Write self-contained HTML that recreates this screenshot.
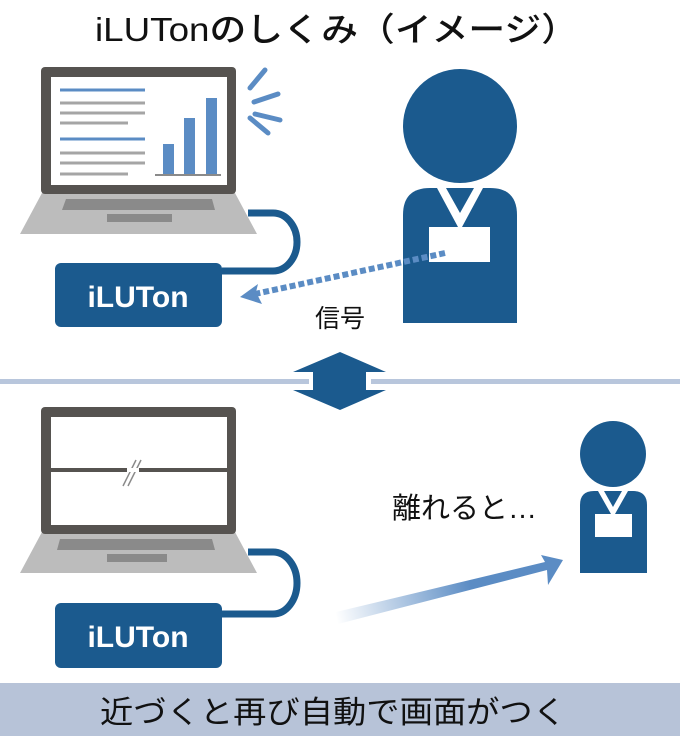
<!DOCTYPE html>
<html><head><meta charset="utf-8"><style>
html,body{margin:0;padding:0;background:#fff;width:680px;height:736px;overflow:hidden}
svg{display:block}
text{font-family:"Liberation Sans","Noto Sans CJK JP",sans-serif}
</style></head><body>
<svg width="680" height="736" viewBox="0 0 680 736" xmlns="http://www.w3.org/2000/svg">
<defs>
<linearGradient id="g" x1="336" y1="618" x2="560" y2="560" gradientUnits="userSpaceOnUse">
<stop offset="0" stop-color="#5b8cc4" stop-opacity="0"/><stop offset="0.6" stop-color="#5b8cc4"/><stop offset="1" stop-color="#5b8cc4"/></linearGradient>
</defs>
<text x="95" y="41" font-size="33" textLength="483" lengthAdjust="spacingAndGlyphs" fill="#111" font-family="Noto Sans CJK JP, sans-serif" font-weight="500">iLUTonのしくみ（イメージ）</text>

<!-- top laptop -->
<polygon points="42,193 235,193 257,234 20,234" fill="#bcbcbc"/>
<rect x="41" y="67" width="195" height="127" rx="4" fill="#565350"/>
<rect x="51" y="77" width="176" height="108" fill="#fff"/>
<polygon points="66,199 212,199 215,210 62,210" fill="#8a8a8a"/>
<rect x="107" y="214" width="65" height="8" fill="#8a8a8a"/>
<g stroke-width="3">
<line x1="60" y1="90" x2="145" y2="90" stroke="#5b8cc4"/>
<line x1="60" y1="103" x2="145" y2="103" stroke="#a5a5a5"/>
<line x1="60" y1="113" x2="145" y2="113" stroke="#a5a5a5"/>
<line x1="60" y1="123" x2="128" y2="123" stroke="#a5a5a5"/>
<line x1="60" y1="139" x2="145" y2="139" stroke="#5b8cc4"/>
<line x1="60" y1="153" x2="145" y2="153" stroke="#a5a5a5"/>
<line x1="60" y1="163" x2="145" y2="163" stroke="#a5a5a5"/>
<line x1="60" y1="174" x2="128" y2="174" stroke="#a5a5a5"/>
<line x1="155" y1="175" x2="221" y2="175" stroke="#8a8a8a" stroke-width="2"/>
</g>
<rect x="163" y="144" width="11" height="30" fill="#5b8cc4"/>
<rect x="184" y="118" width="11" height="56" fill="#5b8cc4"/>
<rect x="206" y="98" width="11" height="76" fill="#5b8cc4"/>
<g stroke="#5b8cc4" stroke-width="5" stroke-linecap="round">
<line x1="250" y1="88" x2="265" y2="70"/>
<line x1="254" y1="102" x2="278" y2="94"/>
<line x1="255" y1="114" x2="280" y2="120"/>
<line x1="250" y1="118" x2="268" y2="133"/>
</g>
<path d="M248,213 H273 A24,29 0 0 1 273,271 H222" fill="none" stroke="#1b5a8e" stroke-width="7"/>
<rect x="55" y="263" width="167" height="64" rx="6" fill="#1b5a8e"/>
<text x="138" y="307" font-size="30" font-weight="bold" fill="#fff" text-anchor="middle">iLUTon</text>

<!-- top person -->
<circle cx="460" cy="126" r="57" fill="#1b5a8e"/>
<path d="M403,323 V215 Q403,188 430,188 H490 Q517,188 517,215 V323 Z" fill="#1b5a8e"/>
<polygon points="437,188 446,188 460,213 474,188 483,188 462,227 458,227" fill="#fff"/>
<rect x="429" y="227" width="61" height="35" fill="#fff"/>
<line x1="445" y1="253" x2="255" y2="294" stroke="#5b8cc4" stroke-width="6" stroke-dasharray="6,3"/>
<polygon points="240,297 258,284 256,292 262,304" fill="#5b8cc4"/>
<text x="340" y="327" font-size="25" text-anchor="middle" fill="#111">信号</text>

<!-- divider -->
<rect x="0" y="379" width="680" height="5" fill="#b8c6dc"/>
<rect x="309" y="377" width="62" height="9" fill="#fff"/>
<polygon points="340,352 386,372 366,372 366,390 386,390 340,410 293,390 313,390 313,372 293,372" fill="#1b5a8e"/>

<!-- bottom laptop -->
<polygon points="42,532 235,532 257,573 20,573" fill="#bcbcbc"/>
<rect x="41" y="407" width="195" height="127" rx="4" fill="#565350"/>
<rect x="51" y="417" width="176" height="108" fill="#fff"/>
<rect x="51" y="468" width="176" height="4" fill="#565350"/>
<polygon points="60,539 212,539 215,550 57,550" fill="#8a8a8a"/>
<rect x="107" y="554" width="60" height="8" fill="#8a8a8a"/>
<g stroke="#8a8a8a" stroke-width="1.5"><line x1="123" y1="486" x2="136" y2="460"/><line x1="128" y1="486" x2="141" y2="460"/></g>
<line x1="127" y1="470" x2="139" y2="470" stroke="#fff" stroke-width="4"/>
<path d="M248,552 H273 A24,31 0 0 1 273,614 H222" fill="none" stroke="#1b5a8e" stroke-width="7"/>
<rect x="55" y="603" width="167" height="65" rx="6" fill="#1b5a8e"/>
<text x="138" y="647" font-size="30" font-weight="bold" fill="#fff" text-anchor="middle">iLUTon</text>

<!-- bottom person -->
<circle cx="613" cy="454" r="33" fill="#1b5a8e"/>
<path d="M580,573 V505 Q580,491 594,491 H633 Q647,491 647,505 V573 Z" fill="#1b5a8e"/>
<polygon points="598,491 604,491 613,507 622,491 628,491 615,514 611,514" fill="#fff"/>
<rect x="595" y="514" width="37" height="23" fill="#fff"/>
<text x="392" y="518" font-size="29" fill="#111">離れると…</text>
<polygon points="336,612 545,562 541,555 563,560 548,585 547,570 338,624" fill="url(#g)"/>

<!-- band -->
<rect x="0" y="683" width="680" height="53" fill="#b7c3d8"/>
<text x="100" y="723" font-size="31" textLength="466" lengthAdjust="spacingAndGlyphs" fill="#111">近づくと再び自動で画面がつく</text>
</svg>
</body></html>
